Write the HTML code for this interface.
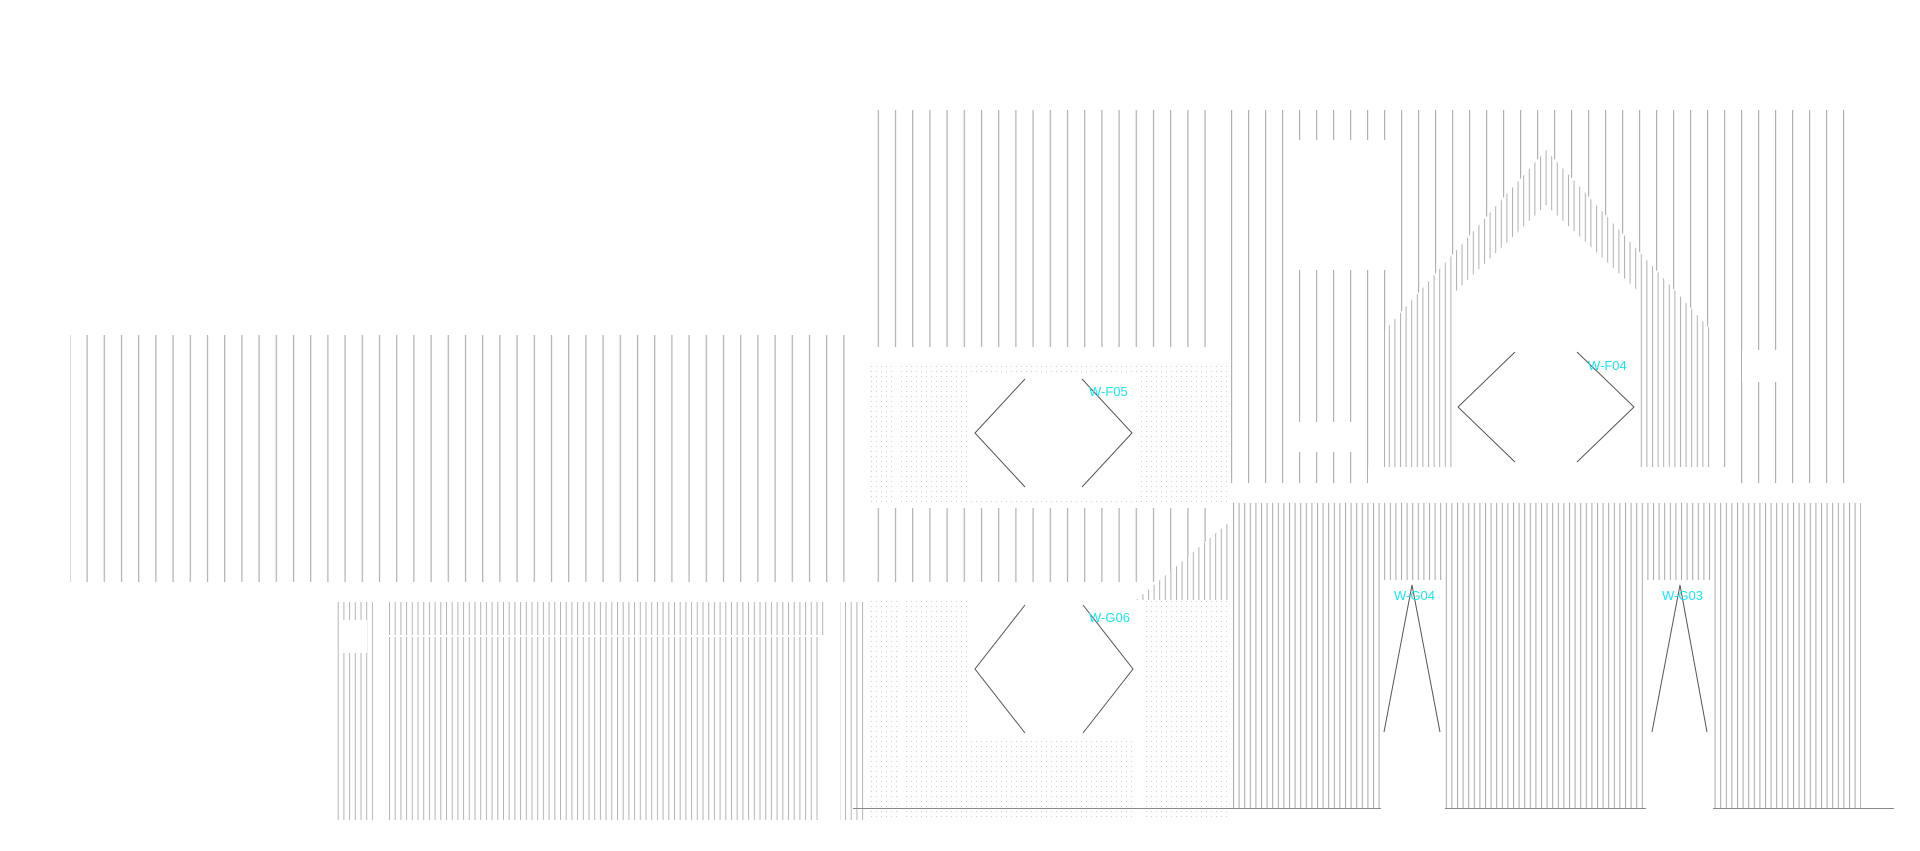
<!DOCTYPE html>
<html><head><meta charset="utf-8"><style>
html,body{margin:0;padding:0;background:#fff;}
svg{display:block;}
text{font-family:"Liberation Sans",sans-serif;font-size:13px;fill:#22e0ee;}
</style></head><body>
<svg width="1920" height="851" viewBox="0 0 1920 851" xmlns="http://www.w3.org/2000/svg">
<defs>
<pattern id="v17" x="0.5" y="0" width="17.2" height="10" patternUnits="userSpaceOnUse"><rect x="0" y="0" width="1.2" height="10" fill="#b0b0b0"/></pattern>
<pattern id="v17b" x="1231" y="0" width="17" height="10" patternUnits="userSpaceOnUse"><rect x="0" y="0" width="1.2" height="10" fill="#b0b0b0"/></pattern>
<pattern id="v57" x="1233" y="0" width="5.6" height="10" patternUnits="userSpaceOnUse"><rect x="0" y="0" width="1" height="10" fill="#a8a8a8"/></pattern>
<pattern id="v57l" x="389" y="0" width="5.7" height="10" patternUnits="userSpaceOnUse"><rect x="0" y="0" width="1" height="10" fill="#b4b4b4"/></pattern>
<pattern id="v4" x="0" y="0" width="5.6" height="10" patternUnits="userSpaceOnUse"><rect x="0" y="0" width="1" height="10" fill="#b0b0b0"/></pattern>
<pattern id="dots" x="0" y="0" width="5" height="5" patternUnits="userSpaceOnUse"><rect x="1" y="1" width="1" height="1" fill="#d0d0d0"/></pattern>
</defs>

<rect x="70" y="335" width="788" height="247" fill="url(#v17)"/>

<rect x="871" y="110" width="345" height="237" fill="url(#v17)"/>
<rect x="871" y="508" width="345" height="74" fill="url(#v17)"/>

<rect x="1231" y="110" width="618" height="373" fill="url(#v17b)"/>
<rect x="1298" y="140" width="88" height="130" fill="#fff"/>
<rect x="1298" y="422" width="54" height="30" fill="#fff"/>
<rect x="1742" y="350" width="38" height="32" fill="#fff"/>
<rect x="1368" y="467" width="360" height="16" fill="#fff"/>
<polygon points="1546,150 1711,330 1711,467 1385,467 1385,330" fill="#fff"/>
<polygon points="1546,150 1711,330 1711,467 1385,467 1385,330" fill="url(#v4)"/>
<polygon points="1546,205 1640,293 1640,467 1454,467 1454,293" fill="#fff"/>
<polyline points="1515,352 1458,407 1515,462" fill="none" stroke="#555" stroke-width="1"/>
<polyline points="1577,352 1634,407 1577,462" fill="none" stroke="#555" stroke-width="1"/>
<text x="1588" y="370">W-F04</text>

<rect x="867" y="365" width="363" height="140" fill="url(#dots)"/>
<rect x="893" y="365" width="6" height="140" fill="#fff"/>
<rect x="969" y="375" width="168" height="125" fill="#fff"/>
<polyline points="1025,379 975,433 1025,487" fill="none" stroke="#555" stroke-width="1"/>
<polyline points="1082,379 1132,433 1082,487" fill="none" stroke="#555" stroke-width="1"/>
<text x="1089" y="396">W-F05</text>

<polygon points="1228,523 1228,600 1136,600" fill="#fff"/>
<polygon points="1228,523 1228,600 1136,600" fill="url(#v4)"/>

<rect x="867" y="600" width="364" height="220" fill="url(#dots)"/>
<rect x="900" y="600" width="6" height="220" fill="#fff"/>
<rect x="971" y="600" width="162" height="141" fill="#fff"/>
<rect x="1133" y="600" width="12" height="220" fill="#fff"/>
<polyline points="1025,605 975,669 1025,733" fill="none" stroke="#555" stroke-width="1"/>
<polyline points="1083,605 1133,669 1083,733" fill="none" stroke="#555" stroke-width="1"/>
<text x="1089" y="622">W-G06</text>

<rect x="333" y="602" width="41" height="218" fill="url(#v57l)"/>
<rect x="342" y="620" width="25" height="33" fill="#fff"/>
<rect x="389" y="602" width="436" height="33" fill="url(#v57l)"/>
<rect x="389" y="637" width="431" height="183" fill="url(#v57l)"/>
<rect x="840" y="602" width="24" height="218" fill="url(#v57l)"/>

<rect x="1233" y="503" width="628" height="305" fill="url(#v57)"/>
<rect x="1381" y="580" width="64" height="229" fill="#fff"/>
<rect x="1646" y="580" width="67" height="229" fill="#fff"/>
<polyline points="1384,732 1412,585 1440,732" fill="none" stroke="#555" stroke-width="1"/>
<polyline points="1652,732 1680,585 1707,732" fill="none" stroke="#555" stroke-width="1"/>
<text x="1394" y="600">W-G04</text>
<text x="1662" y="600">W-G03</text>

<line x1="853" y1="808.5" x2="1381" y2="808.5" stroke="#888" stroke-width="1"/>
<line x1="1445" y1="808.5" x2="1646" y2="808.5" stroke="#888" stroke-width="1"/>
<line x1="1713" y1="808.5" x2="1894" y2="808.5" stroke="#888" stroke-width="1"/>
</svg>
</body></html>
